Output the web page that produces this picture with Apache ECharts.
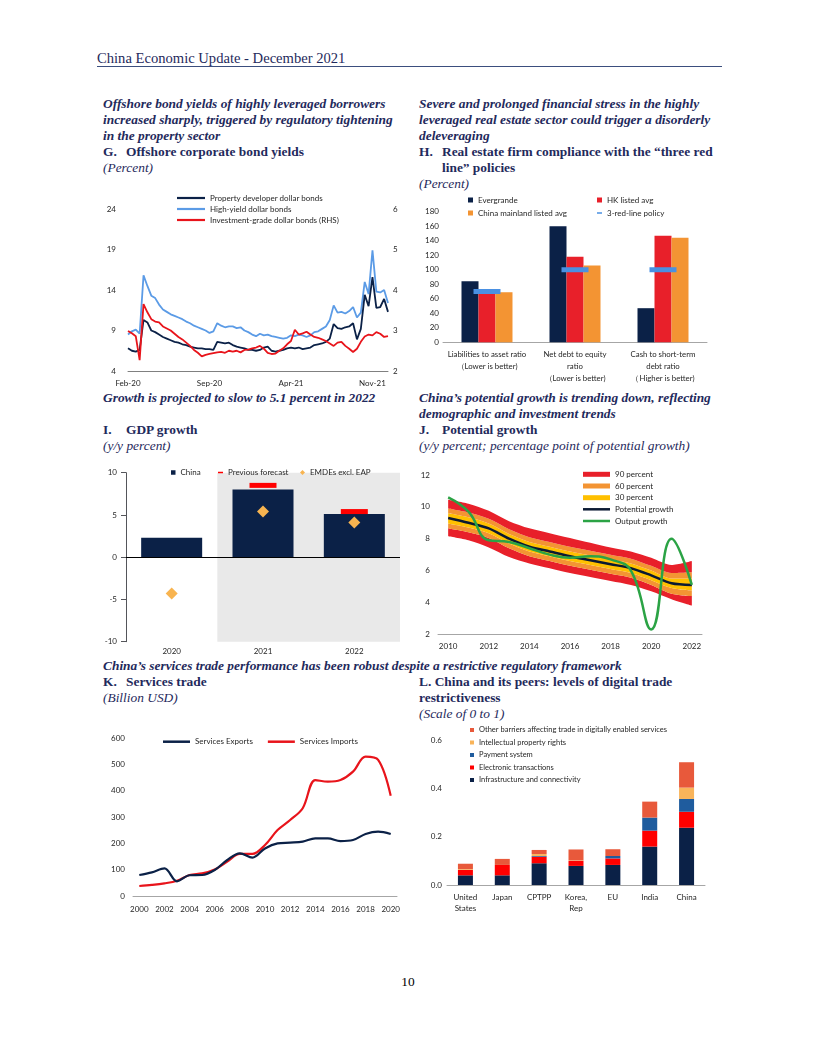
<!DOCTYPE html>
<html><head><meta charset="utf-8">
<script src="https://cdn.jsdelivr.net/npm/echarts@6/dist/echarts.min.js"></script>
<style>
body{margin:0;background:#fff;}
#page{position:relative;width:816px;height:1056px;overflow:hidden;background:#fff;}
.t{position:absolute;font-family:'Liberation Serif','Times New Roman',serif;font-size:13.4px;line-height:16px;color:#1F2A5C;white-space:nowrap;}
.bi{font-weight:bold;font-style:italic;}
.b{font-weight:bold;}
.i{font-style:italic;}
.lab{display:inline-block;width:23px;}
.c{position:absolute;}
</style></head><body><div id="page">
<div class="t" style="left:97px;top:49px;font-size:14.6px;line-height:18px;">China Economic Update - December 2021</div>
<div style="position:absolute;left:97px;top:66px;width:625px;height:0;border-top:1.5px solid #3B4E7E;"></div>

<div class="t" style="left:103px;top:96px;">
<div class="bi">Offshore bond yields of highly leveraged borrowers</div>
<div class="bi">increased sharply, triggered by regulatory tightening</div>
<div class="bi">in the property sector</div>
<div class="b"><span class="lab">G.</span>Offshore corporate bond yields</div>
<div class="i">(Percent)</div>
</div>
<div class="t" style="left:419px;top:96px;">
<div class="bi">Severe and prolonged financial stress in the highly</div>
<div class="bi">leveraged real estate sector could trigger a disorderly</div>
<div class="bi">deleveraging</div>
<div class="b"><span class="lab">H.</span>Real estate firm compliance with the “three red</div>
<div class="b"><span class="lab"></span>line” policies</div>
<div class="i">(Percent)</div>
</div>

<div class="t" style="left:103px;top:390px;">
<div class="bi">Growth is projected to slow to 5.1 percent in 2022</div>
<div>&nbsp;</div>
<div class="b"><span class="lab">I.</span>GDP growth</div>
<div class="i">(y/y percent)</div>
</div>
<div class="t" style="left:419px;top:390px;">
<div class="bi">China’s potential growth is trending down, reflecting</div>
<div class="bi">demographic and investment trends</div>
<div class="b"><span class="lab">J.</span>Potential growth</div>
<div class="i">(y/y percent; percentage point of potential growth)</div>
</div>

<div class="t" style="left:103px;top:658px;">
<div class="bi">China’s services trade performance has been robust despite a restrictive regulatory framework</div>
<div class="b"><span class="lab">K.</span>Services trade</div>
<div class="i">(Billion USD)</div>
</div>
<div class="t" style="left:419px;top:674px;">
<div class="b">L. China and its peers: levels of digital trade</div>
<div class="b">restrictiveness</div>
<div class="i">(Scale of 0 to 1)</div>
</div>

<div class="t" style="left:0;top:974px;width:816px;text-align:center;color:#000;">10</div>
</div>
<script>
// ---------- G. Offshore corporate bond yields ----------
const gDates = [
'2020-02-01','2020-02-11','2020-02-21','2020-03-01','2020-03-11','2020-03-21','2020-04-01','2020-04-11','2020-04-21',
'2020-05-01','2020-05-11','2020-05-21','2020-06-01','2020-06-11','2020-06-21','2020-07-01','2020-07-11','2020-07-21',
'2020-08-01','2020-08-11','2020-08-21','2020-09-01','2020-09-11','2020-09-21','2020-10-01','2020-10-11','2020-10-21',
'2020-11-01','2020-11-11','2020-11-21','2020-12-01','2020-12-11','2020-12-21',
'2021-01-01','2021-01-11','2021-01-21','2021-02-01','2021-02-11','2021-02-21','2021-03-01','2021-03-11','2021-03-21',
'2021-04-01','2021-04-11','2021-04-21','2021-05-01','2021-05-11','2021-05-21','2021-06-01','2021-06-11','2021-06-21',
'2021-07-01','2021-07-11','2021-07-21','2021-08-01','2021-08-11','2021-08-21','2021-09-01','2021-09-11','2021-09-21',
'2021-10-01','2021-10-11','2021-10-21','2021-11-01','2021-11-11','2021-11-21','2021-12-01','2021-12-11'];
const gTickDates = ['2020-02-01','2020-09-01','2021-04-01','2021-11-01'];
const gTickLabels = ['Feb-20','Sep-20','Apr-21','Nov-21'];
const gProperty = [6.8,6.5,6.4,6.6,10.3,10.0,9.0,8.8,8.5,8.2,
8.0,7.8,7.6,7.5,7.3,7.2,7.0,6.9,6.8,6.8,
6.7,6.7,6.6,7.6,7.5,7.4,7.5,7.2,7.0,6.9,
6.8,6.6,6.6,6.5,6.6,6.9,7.0,6.5,6.4,6.5,
6.6,6.8,6.9,6.8,6.9,6.7,6.8,6.9,7.2,7.3,
7.4,7.6,8.0,9.8,9.3,9.2,9.4,9.5,9.9,7.9,
9.2,13.4,12.0,15.6,11.8,11.9,12.9,11.3];
const gHighYield = [8.5,8.9,9.1,8.6,15.8,14.5,13.3,13.0,12.2,11.6,
11.3,11.0,10.8,10.6,10.4,10.1,9.9,9.6,9.4,9.2,
9.0,8.7,8.9,9.9,9.6,9.4,9.5,9.5,9.3,9.4,
9.0,8.8,8.5,8.3,8.6,8.4,8.5,8.3,8.2,8.1,
8.0,8.1,8.4,8.3,8.5,8.4,8.2,8.4,8.8,8.9,
9.2,9.5,10.3,12.1,11.2,11.3,11.1,11.4,11.9,10.6,
11.2,15.0,13.5,18.9,13.8,13.7,14.0,12.4];
const gInvGrade = [2.99,2.93,2.86,2.27,3.65,3.45,3.28,3.22,3.20,3.10,
3.05,3.00,2.92,2.84,2.78,2.70,2.62,2.52,2.45,2.36,
2.40,2.42,2.44,2.46,2.47,2.45,2.50,2.48,2.50,2.46,
2.52,2.53,2.56,2.58,2.62,2.55,2.45,2.42,2.43,2.50,
2.56,2.66,2.74,3.02,2.90,2.93,2.97,2.90,2.84,2.82,
2.78,2.74,2.68,2.62,2.70,2.72,2.62,2.55,2.47,2.55,
2.72,2.85,2.90,2.88,2.96,2.92,2.84,2.86];

// ---------- H. Three red lines ----------
const hCats = ['Liabilities to asset ratio\n（Lower is better)','Net debt to equity\nratio\n（Lower is better)','Cash to short-term\ndebt ratio\n（Higher is better)'];
const hEvergrande = [84,160,47];
const hHK = [68,118,147];
const hMainland = [69,106,144];
const hPolicy = [70,100,100];

// ---------- I. GDP growth ----------
const iYears = ['2020','2021','2022'];
const iChina = [2.3,8.0,5.1];
const iPrev = [null,8.5,5.4];
const iEMDE = [-4.3,5.4,4.1];

// ---------- J. Potential growth ----------
const jYears = ['2010','2011','2012','2013','2014','2015','2016','2017','2018','2019','2020','2021','2022'];
const jPotential = [9.3,9.0,8.65,8.0,7.5,7.2,6.9,6.65,6.4,6.15,5.7,5.2,5.1];
const jOutput = [10.6,9.7,7.9,7.8,7.4,7.0,6.8,6.9,6.7,6.0,2.3,8.0,5.1];
const j90hi = [10.45,10.2,9.75,9.1,8.65,8.35,8.05,7.75,7.45,7.2,6.8,6.35,6.6];
const j60hi = [9.9,9.65,9.25,8.6,8.1,7.8,7.5,7.25,7.0,6.75,6.3,5.85,5.9];
const j30hi = [9.6,9.35,8.95,8.3,7.8,7.5,7.2,6.95,6.7,6.45,6.0,5.5,5.5];
const j30lo = [8.95,8.7,8.35,7.7,7.2,6.9,6.6,6.35,6.1,5.85,5.4,4.9,4.75];
const j60lo = [8.65,8.4,8.05,7.4,6.9,6.6,6.3,6.05,5.8,5.55,5.1,4.55,4.4];
const j90lo = [8.15,7.9,7.45,6.85,6.45,6.15,5.85,5.6,5.35,5.1,4.7,4.2,3.8];

// ---------- K. Services trade ----------
const kYears = ['2000','2001','2002','2003','2004','2005','2006','2007','2008','2009','2010','2011','2012','2013','2014','2015','2016','2017','2018','2019','2020'];
const kExports = [80,90,105,56,79,80,99,137,162,146,181,200,203,207,219,219,209,213,236,245,236];
const kImports = [38,42,48,58,80,86,101,131,160,160,194,251,289,334,441,435,441,473,530,518,381];

// ---------- L. Digital trade restrictiveness ----------
const lCountries = ['United\nStates','Japan','CPTPP','Korea,\nRep','EU','India','China'];
const lInfra = [0.040,0.040,0.090,0.079,0.083,0.159,0.237];
const lElectronic = [0.023,0.043,0.027,0.021,0.027,0.066,0.066];
const lPayment = [0,0,0.003,0,0.010,0.054,0.053];
const lIP = [0.003,0,0.008,0.002,0,0,0.047];
const lOther = [0.022,0.025,0.017,0.045,0.028,0.066,0.105];

const font = 'Lato';
const lc = '#262626';
const navy = '#0B2147';
function mk(left, top, w, h, opt){
  const d = document.createElement('div');
  d.className = 'c';
  d.style.left = left+'px'; d.style.top = top+'px'; d.style.width = w+'px'; d.style.height = h+'px';
  document.getElementById('page').appendChild(d);
  const ch = echarts.init(d, null, {width:w, height:h});
  opt.animation = false;
  opt.textStyle = {fontFamily:font, color:lc};
  ch.setOption(opt);
}
const lt = {fontSize:8, lineHeight:9, color:lc, fontFamily:font};

// G
mk(100,180,320,215,{
  grid:{left:28,top:29,width:260,height:162},
  legend:{orient:'vertical',left:72,top:8.5,itemWidth:28,itemHeight:2.2,itemGap:2,icon:'rect',textStyle:lt,
    data:['Property developer dollar bonds','High-yield dollar bonds','Investment-grade dollar bonds (RHS)']},
  xAxis:{type:'category',data:gDates,boundaryGap:false,
    axisLine:{lineStyle:{color:'#808080'}},axisTick:{show:false},
    axisLabel:{interval:(i,v)=>gTickDates.indexOf(v)>=0,formatter:v=>gTickLabels[gTickDates.indexOf(v)],fontSize:8,margin:8,color:lc}},
  yAxis:[{type:'value',min:4,max:24,interval:5,splitLine:{show:false},axisLabel:{fontSize:8,margin:12,color:lc}},
         {type:'value',min:2,max:6,interval:1,splitLine:{show:false},axisLabel:{fontSize:8,margin:5,color:lc}}],
  series:[
    {name:'Property developer dollar bonds',type:'line',data:gProperty,symbol:'none',z:3,lineStyle:{color:navy,width:1.8},itemStyle:{color:navy}},
    {name:'High-yield dollar bonds',type:'line',data:gHighYield,symbol:'none',z:2,lineStyle:{color:'#5B9BE6',width:1.8},itemStyle:{color:'#5B9BE6'}},
    {name:'Investment-grade dollar bonds (RHS)',type:'line',yAxisIndex:1,data:gInvGrade,symbol:'none',z:4,lineStyle:{color:'#E8141B',width:1.8},itemStyle:{color:'#E8141B'}}
  ]
});

// H
mk(415,185,300,210,{
  grid:{left:28,top:26.7,width:264,height:130.6},
  legend:[
    {left:48,top:5.5,orient:'vertical',itemWidth:5,itemHeight:5,itemGap:4,icon:'rect',textStyle:lt,data:['Evergrande','China mainland listed avg']},
    {left:177,top:5.5,orient:'vertical',itemWidth:5,itemHeight:5,icon:'rect',textStyle:lt,data:['HK listed avg']},
    {left:177,top:18.5,orient:'vertical',itemWidth:5,itemHeight:1.5,icon:'rect',textStyle:lt,data:['3-red-line policy']}
  ],
  xAxis:{type:'category',data:hCats,axisTick:{show:false},axisLine:{lineStyle:{color:'#A6A6A6'}},
    axisLabel:{interval:0,fontSize:7.8,lineHeight:12,margin:6,color:lc}},
  yAxis:{type:'value',min:0,max:180,interval:20,splitLine:{show:false},axisLabel:{fontSize:8,margin:4,color:lc}},
  series:[
    {name:'Evergrande',type:'bar',data:hEvergrande,barWidth:17,barGap:'0%',itemStyle:{color:navy}},
    {name:'HK listed avg',type:'bar',data:hHK,barWidth:17,barGap:'0%',itemStyle:{color:'#E8202A'}},
    {name:'China mainland listed avg',type:'bar',data:hMainland,barWidth:17,barGap:'0%',itemStyle:{color:'#F39433'}},
    {name:'3-red-line policy',type:'scatter',data:hPolicy,symbol:'rect',symbolSize:[27,5],itemStyle:{color:'#4A90E2',opacity:1},z:5}
  ]
});

// I
mk(100,455,310,210,{
  grid:{left:26,top:17.7,width:274,height:169},
  legend:[
    {left:66,top:8,itemWidth:4.5,itemHeight:4.5,icon:'rect',textStyle:lt,data:['China']},
    {left:113,top:8,itemWidth:5,itemHeight:1.5,icon:'rect',textStyle:lt,data:['Previous forecast']},
    {left:195,top:8,itemWidth:5,itemHeight:5,icon:'diamond',textStyle:lt,data:['EMDEs excl. EAP']}
  ],
  xAxis:[{type:'category',data:iYears,axisLine:{show:false,onZero:false},axisTick:{show:false},axisLabel:{fontSize:8,margin:6,color:lc}},
         {type:'value',min:0,max:3,show:false}],
  yAxis:{type:'value',min:-10,max:10,interval:5,splitLine:{show:false},axisLabel:{fontSize:8,margin:9,color:lc}},
  series:[
    {name:'shade',type:'line',xAxisIndex:1,data:[[1.5,0]],symbol:'none',lineStyle:{opacity:0},silent:true,z:0,
      markArea:{silent:true,itemStyle:{color:'#E9E9E9'},data:[[{xAxis:1},{xAxis:3}]]}},
    {name:'China',type:'bar',data:iChina,barWidth:61,itemStyle:{color:navy},z:2,
      markLine:{silent:true,symbol:['none','none'],label:{show:false},lineStyle:{color:'#000',type:'solid',width:1},data:[{yAxis:0}]}},
    {name:'Previous forecast',type:'scatter',data:iPrev,symbol:'rect',symbolSize:[27,5],itemStyle:{color:'#FF0000',opacity:1},z:4},
    {name:'EMDEs excl. EAP',type:'scatter',data:iEMDE,symbol:'diamond',symbolSize:12,itemStyle:{color:'#F8B450',opacity:1},z:5}
  ]
});

// J
const jRed='#E8202A', jOr='#F39433', jYe='#FFC000';
function diff(a,b){return a.map((v,i)=>+(v-b[i]).toFixed(3));}
function band(name,data,col){
  return {name:name,type:'line',stack:'b',data:data,symbol:'none',smooth:0.3,color:col,
    lineStyle:{width:0,opacity:0},areaStyle:{color:col,opacity:1},itemStyle:{color:col},silent:true};
}
mk(415,455,300,210,{
  grid:{left:23,top:20,width:264,height:159.3},
  legend:[
    {orient:'vertical',left:163,top:9.8,itemWidth:27,itemHeight:5,itemGap:2.7,icon:'rect',textStyle:lt,
      data:['90 percent','60 percent','30 percent']},
    {orient:'vertical',left:163,top:44.8,itemWidth:27,itemHeight:2.5,itemGap:2.7,icon:'rect',textStyle:lt,
      data:['Potential growth','Output growth']}
  ],
  xAxis:{type:'category',data:jYears,axisTick:{show:false},axisLine:{lineStyle:{color:'#A6A6A6'}},
    axisLabel:{interval:1,fontSize:8,margin:8,color:lc}},
  yAxis:{type:'value',min:2,max:12,interval:2,splitLine:{show:false},axisLabel:{fontSize:8,margin:8,color:lc}},
  series:[
    {name:'base',type:'line',stack:'b',data:j90lo,symbol:'none',smooth:0.3,lineStyle:{width:0,opacity:0},silent:true},
    band('90 percent',diff(j60lo,j90lo),jRed),
    band('60 percent',diff(j30lo,j60lo),jOr),
    band('30 percent',diff(j30hi,j30lo),jYe),
    band('60 percent',diff(j60hi,j30hi),jOr),
    band('90 percent',diff(j90hi,j60hi),jRed),
    {name:'Potential growth',type:'line',data:jPotential,symbol:'none',smooth:0.3,z:5,lineStyle:{color:'#0B1A33',width:2.5},itemStyle:{color:'#0B1A33'}},
    {name:'Output growth',type:'line',data:jOutput,symbol:'none',smooth:0.45,z:6,lineStyle:{color:'#2BA345',width:2.5},itemStyle:{color:'#2BA345'}}
  ]
});

// K
mk(100,720,310,200,{
  grid:{left:33,top:18.3,width:264,height:157.7},
  legend:{left:58,top:12.2,itemWidth:27,itemHeight:2.5,itemGap:15,icon:'rect',textStyle:lt,data:['Services Exports','Services Imports']},
  xAxis:{type:'category',data:kYears,axisTick:{show:false},axisLine:{lineStyle:{color:'#A6A6A6'}},
    axisLabel:{interval:1,fontSize:8,margin:9,color:lc}},
  yAxis:{type:'value',min:0,max:600,interval:100,splitLine:{show:false},axisLabel:{fontSize:8,margin:8,color:lc}},
  series:[
    {name:'Services Exports',type:'line',data:kExports,symbol:'none',smooth:0.35,z:3,lineStyle:{color:navy,width:2.2},itemStyle:{color:navy}},
    {name:'Services Imports',type:'line',data:kImports,symbol:'none',smooth:0.35,z:2,lineStyle:{color:'#E8141B',width:2.2},itemStyle:{color:'#E8141B'}}
  ]
});

// L
function lbar(name,data,col){return {name:name,type:'bar',stack:'s',data:data,barWidth:15,itemStyle:{color:col}};}
mk(415,715,300,205,{
  grid:{left:32,top:25,width:258,height:145},
  legend:{left:50,top:5.5,orient:'vertical',itemWidth:4,itemHeight:4,itemGap:3.5,icon:'rect',
    textStyle:{fontSize:7.5,lineHeight:9,color:lc,fontFamily:font},
    data:['Other barriers affecting trade in digitally enabled services','Intellectual property rights','Payment system','Electronic transactions','Infrastructure and connectivity']},
  xAxis:{type:'category',data:lCountries,axisTick:{show:false},axisLine:{lineStyle:{color:'#A6A6A6'}},
    axisLabel:{interval:0,fontSize:8,lineHeight:11,margin:7,color:lc}},
  yAxis:{type:'value',min:0,max:0.6,interval:0.2,splitLine:{show:false},axisLabel:{fontSize:8,margin:5,color:lc,formatter:v=>v.toFixed(1)}},
  series:[
    lbar('Infrastructure and connectivity',lInfra,navy),
    lbar('Electronic transactions',lElectronic,'#FF0000'),
    lbar('Payment system',lPayment,'#1F5C9E'),
    lbar('Intellectual property rights',lIP,'#F9B45A'),
    lbar('Other barriers affecting trade in digitally enabled services',lOther,'#E8593B')
  ]
});
</script>
</body></html>
